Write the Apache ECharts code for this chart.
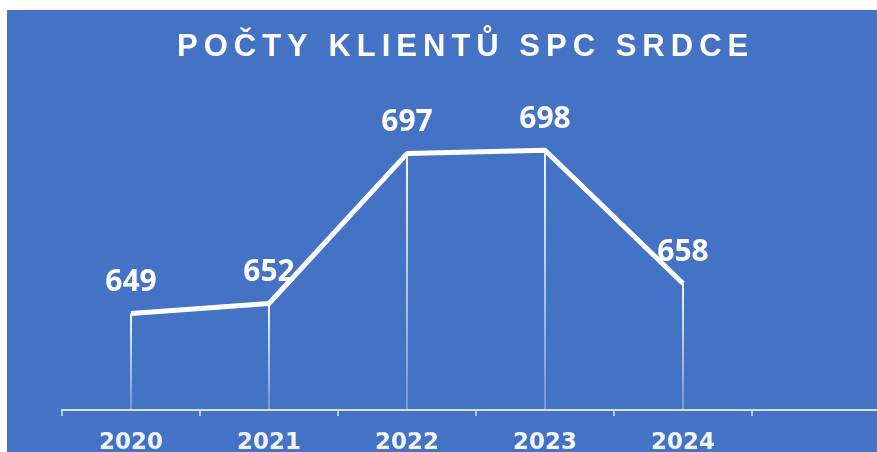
<!DOCTYPE html>
<html>
<head>
<meta charset="utf-8">
<script src="https://cdn.jsdelivr.net/npm/echarts@6/dist/echarts.min.js"></script>
<style>
  html, body { margin: 0; padding: 0; background: #fff; }
  #chart { position: absolute; left: 7px; top: 10px; width: 870px; height: 442px; }
</style>
</head>
<body>
<div id="chart"></div>
<script>
// data
var TITLE = 'POČTY KLIENTŮ SPC SRDCE';
var YEARS = ['2020', '2021', '2022', '2023', '2024', ''];
var CLIENTS = [649, 652, 697, 698, 658];

var myChart = echarts.init(document.getElementById('chart'));

// title with letter spacing (one rich token per character)
var titleText = TITLE.split('').map(function (ch) { return '{c|' + ch + '}'; }).join('');

var option = {
  backgroundColor: '#4472C4',
  animation: false,
  title: {
    text: titleText,
    left: 167,
    top: 22,
    padding: 0,
    textStyle: {
      fontFamily: 'Liberation Sans',
      fontSize: 31,
      fontWeight: 'bold',
      color: '#ffffff',
      rich: {
        c: {
          fontFamily: 'Liberation Sans',
          fontSize: 31,
          fontWeight: 'bold',
          color: '#ffffff',
          padding: [0, 3]
        }
      }
    }
  },
  grid: { left: 55, width: 828, top: 67, bottom: 42, outerBoundsMode: 'none', containLabel: false },
  xAxis: {
    type: 'category',
    data: YEARS,
    boundaryGap: true,
    axisLine: { lineStyle: { color: '#D9E2F3', width: 2 } },
    axisTick: { show: true, length: 6, lineStyle: { color: '#D9E2F3', width: 1.5 } },
    axisLabel: {
      interval: 0,
      margin: 22,
      color: '#F2F5FB',
      fontFamily: 'DejaVu Sans',
      fontWeight: 'bold',
      fontSize: 23
    },
    splitLine: { show: false }
  },
  yAxis: {
    type: 'value',
    show: false,
    min: 620,
    max: 720,
    splitLine: { show: false }
  },
  series: [
    {
      // drop lines with the value labels
      type: 'bar',
      data: CLIENTS,
      barWidth: 2,
      z: 1,
      itemStyle: {
        color: new echarts.graphic.LinearGradient(0, 0, 0, 1, [
          { offset: 0, color: 'rgba(255,255,255,0.95)' },
          { offset: 1, color: 'rgba(255,255,255,0.25)' }
        ])
      },
      label: {
        show: true,
        position: 'top',
        distance: 16,
        color: '#ffffff',
        fontFamily: 'Open Sans',
        fontWeight: 'bold',
        fontSize: 30
      }
    },
    {
      type: 'line',
      data: CLIENTS,
      symbol: 'none',
      z: 2,
      lineStyle: { color: '#ffffff', width: 5 }
    }
  ]
};

myChart.setOption(option);
window.addEventListener('resize', function () { myChart.resize(); });
</script>
</body>
</html>
